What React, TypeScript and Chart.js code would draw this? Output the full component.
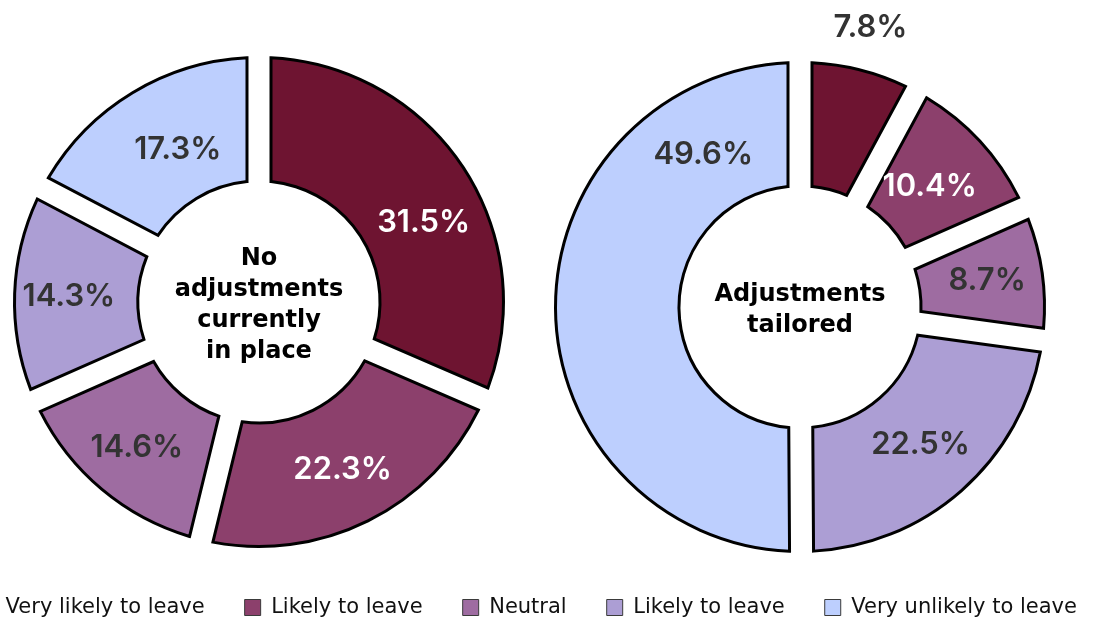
import React, { useEffect, useRef } from 'react';
import { Chart, registerables, ArcElement, DoughnutController } from 'chart.js';

Chart.register(...registerables);

// ---------- data ----------
const legendLabels = ['Very likely to leave', 'Likely to leave', 'Neutral', 'Likely to leave', 'Very unlikely to leave'];
const noAdjustmentValues = [31.5, 22.3, 14.6, 14.3, 17.3];
const tailoredValues = [7.8, 10.4, 8.7, 22.5, 49.6];
const noAdjustmentTitle = ['No', 'adjustments', 'currently', 'in place'];
const tailoredTitle = ['Adjustments', 'tailored'];

// ---------- styles ----------
const sliceColors = ['#6E1431', '#8C406C', '#9E6CA1', '#AC9ED4', '#BDCFFE'];
const labelColors = ['#FFFFFF', '#FFFFFF', '#333333', '#333333', '#333333'];
const outsideLabelColor = '#333333';
// label anchor: fraction along slice angle, fraction across ring (>1 = outside)
const leftLabelAlong = [0.567, 0.5, 0.5, 0.49, 0.55];
const leftLabelRadial = [0.5, 0.54, 0.56, 0.56, 0.42];
const rightLabelAlong = [0.5, 0.5, 0.5, 0.5, 0.82];
const rightLabelRadial = [1.35, 0.45, 0.55, 0.5, 0.48];

// ---------- custom arc with parallel gaps ----------
class GapArc extends ArcElement {
  static id = 'gapArc';
  static defaults = { ...(ArcElement as any).defaults, gap: 0 };
  draw(ctx: CanvasRenderingContext2D) {
    const self: any = this;
    const { x, y, startAngle: s, endAngle: e, innerRadius: ri, outerRadius: ro } = self;
    const o: any = self.options;
    if (!(ro > 1) || e <= s) return;
    const h = (o.gap || 0) / 2;
    const ao = Math.asin(Math.min(1, h / ro));
    ctx.save();
    ctx.beginPath();
    ctx.arc(x, y, ro, s + ao, e - ao);
    const ai = ri > h ? Math.asin(h / ri) : Math.PI / 2;
    if (ri > h && e - ai > s + ai) {
      ctx.arc(x, y, ri, e - ai, s + ai, true);
    } else {
      const mid = (s + e) / 2;
      const d = h / Math.sin((e - s) / 2);
      ctx.lineTo(x + d * Math.cos(mid), y + d * Math.sin(mid));
    }
    ctx.closePath();
    ctx.fillStyle = o.backgroundColor;
    ctx.fill();
    if (o.borderWidth) {
      ctx.lineWidth = o.borderWidth;
      ctx.strokeStyle = o.borderColor;
      ctx.lineJoin = 'miter';
      ctx.stroke();
    }
    ctx.restore();
  }
}

class GapDoughnutController extends DoughnutController {
  static id = 'gapDoughnut';
  static defaults = { ...(DoughnutController as any).defaults, dataElementType: 'gapArc' };
}

Chart.register(GapArc as any, GapDoughnutController as any);

function labelPlugin(values: number[], along: number[], radial: number[], title: string[]) {
  return {
    id: 'sliceLabels',
    afterDatasetsDraw(chart: any) {
      const ctx = chart.ctx as CanvasRenderingContext2D;
      const meta = chart.getDatasetMeta(0);
      ctx.save();
      ctx.textAlign = 'center';
      ctx.textBaseline = 'middle';
      meta.data.forEach((arc: any, i: number) => {
        const { x, y, startAngle, endAngle, innerRadius, outerRadius } = arc;
        const a = startAngle + (endAngle - startAngle) * along[i];
        const r = innerRadius + (outerRadius - innerRadius) * radial[i];
        ctx.fillStyle = radial[i] > 1 ? outsideLabelColor : labelColors[i];
        ctx.font = '600 31px Inter';
        ctx.fillText(values[i].toFixed(1) + '%', x + r * Math.cos(a), y + r * Math.sin(a));
      });
      const a0 = meta.data[0];
      ctx.fillStyle = '#000';
      ctx.font = 'bold 24px "DejaVu Sans"';
      title.forEach((line, k) => {
        ctx.fillText(line, a0.x, a0.y + 3 + (k - (title.length - 1) / 2) * 31);
      });
      ctx.restore();
    },
  };
}

function doughnutConfig(values: number[], along: number[], radial: number[], title: string[], padding: any): any {
  return {
    type: 'gapDoughnut',
    data: {
      labels: legendLabels,
      datasets: [
        {
          data: values,
          backgroundColor: sliceColors,
          borderColor: '#000000',
          borderWidth: 3,
          hoverBorderWidth: 3,
          offset: 0,
          hoverOffset: 0,
          gap: 24,
        },
      ],
    },
    options: {
      responsive: false,
      animation: false,
      events: [],
      cutout: '49.5%',
      rotation: 0,
      layout: { padding },
      plugins: { legend: { display: false }, tooltip: { enabled: false } },
    },
    plugins: [labelPlugin(values, along, radial, title)],
  };
}

export default function App() {
  const leftRef = useRef<HTMLCanvasElement>(null);
  const rightRef = useRef<HTMLCanvasElement>(null);
  const legendRef = useRef<HTMLCanvasElement>(null);

  useEffect(() => {
    const left = new Chart(
      leftRef.current as HTMLCanvasElement,
      doughnutConfig(noAdjustmentValues, leftLabelAlong, leftLabelRadial, noAdjustmentTitle, { left: 13, right: 35, top: 56, bottom: 52 })
    );
    const right = new Chart(
      rightRef.current as HTMLCanvasElement,
      doughnutConfig(tailoredValues, rightLabelAlong, rightLabelRadial, tailoredTitle, { left: 14, right: 14, top: 61, bottom: 47 })
    );
    const legend = new Chart(legendRef.current as HTMLCanvasElement, {
      type: 'doughnut',
      data: {
        labels: legendLabels,
        datasets: [{ data: noAdjustmentValues, backgroundColor: sliceColors, borderWidth: 0, radius: 0 } as any],
      },
      options: {
        responsive: false,
        animation: false,
        events: [],
        plugins: {
          tooltip: { enabled: false },
          legend: {
            position: 'top',
            labels: {
              font: { family: '"DejaVu Sans"', size: 21 },
              color: '#111111',
              boxWidth: 16,
              boxHeight: 16,
              padding: 40,
              generateLabels: () =>
                legendLabels.map((text, i) => ({
                  text,
                  fillStyle: sliceColors[i],
                  strokeStyle: '#3a3a3a',
                  lineWidth: 1,
                  hidden: false,
                  index: i,
                  fontColor: '#111111',
                })),
            },
          },
        },
      } as any,
    });
    return () => {
      left.destroy();
      right.destroy();
      legend.destroy();
    };
  }, []);

  return (
    <div style={{ position: 'fixed', left: 0, top: 0, width: 1094, height: 619, overflow: 'hidden', background: '#ffffff' }}>
      <canvas ref={leftRef} width={540} height={600} style={{ position: 'absolute', left: 0, top: 0, width: 540, height: 600 }} />
      <canvas ref={rightRef} width={520} height={600} style={{ position: 'absolute', left: 540, top: 0, width: 520, height: 600 }} />
      <canvas ref={legendRef} width={1200} height={200} style={{ position: 'absolute', left: -72, top: 557, width: 1200, height: 200 }} />
    </div>
  );
}
